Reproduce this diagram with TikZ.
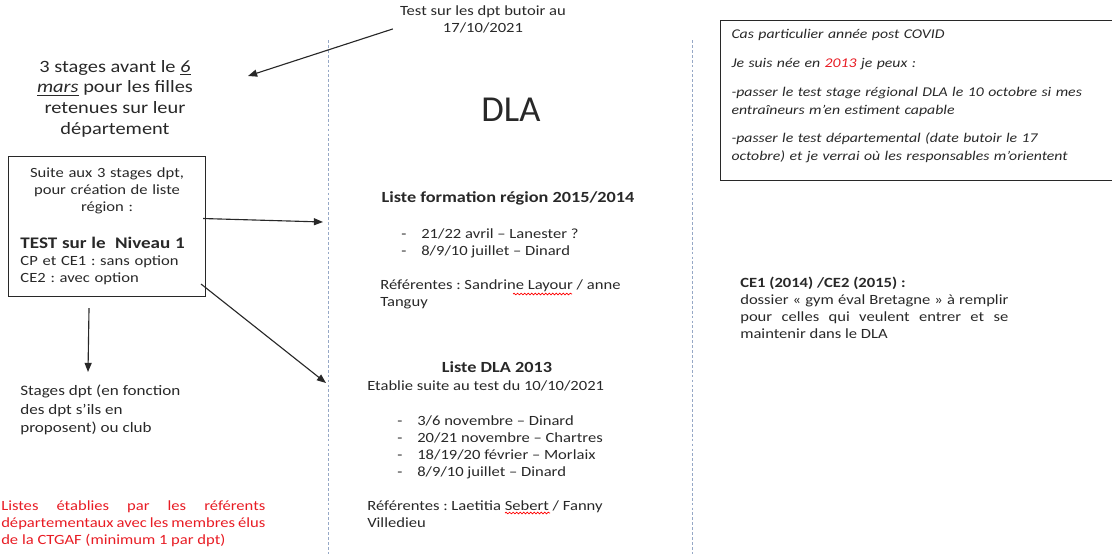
\documentclass[tikz,border=0pt]{standalone}
\usepackage{fontspec}
\setmainfont{Carlito}[FakeStretch=1.18]
\newfontfamily\titlefont{Carlito}
\usetikzlibrary{arrows.meta,decorations.pathmorphing}

\definecolor{inkgray}{RGB}{40,40,40}
\definecolor{notered}{RGB}{232,28,36}
\definecolor{seplineblue}{RGB}{150,168,198}

\newcommand\dashitem{\makebox[0.5cm][l]{-}}
\newcommand\bodyfont{\fontsize{10}{12.1}\selectfont}
\frenchspacing

\tikzset{
  txt/.style={inner sep=0pt, text=inkgray, font=\bodyfont, align=left},
  arr/.style={-{Triangle[length=6.5pt,width=5pt]}, line width=0.8pt, inkgray},
  sepline/.style={seplineblue, dash pattern=on 2pt off 1.5pt, line width=0.6pt},
  spellmark/.style={red, line width=0.5pt, decorate, decoration={snake, amplitude=0.6pt, segment length=2.5pt}},
}

\begin{document}
\begin{tikzpicture}[x=0.025cm, y=-0.025cm]
\useasboundingbox (0,0) rectangle (1112,554);

\foreach \x in {328,692}{
  \draw[sepline] (\x,40) -- (\x,554);
}

% left column
\node[txt, anchor=north, align=center] (test) at (483,5) {Test sur les dpt butoir au\\17/10/2021};
\node[txt, anchor=north, align=center, font=\fontsize{12.3}{14.7}\selectfont] (stages) at (115,60)
  {3 stages avant le \underline{\textit{6}}\\\underline{\textit{mars}} pour les filles\\retenues sur leur\\département};
\node[txt, draw=inkgray, line width=0.7pt, anchor=north west, inner xsep=0.3cm, inner ysep=0pt,
      text width=4.325cm, minimum height=3.5cm] (suite) at (8,156)
  {{\centering Suite aux 3 stages dpt,\\pour création de liste\\région :\par}
   \vspace{12pt}
   {\fontsize{11.5}{14}\selectfont\bfseries TEST sur le\ \ Niveau 1\par}
   CP et CE1 : sans option\\CE2 : avec option};
\node[txt, anchor=north west, font=\fontsize{10.3}{13}\selectfont] (club) at (20,385)
  {Stages dpt (en fonction\\des dpt s’ils en\\proposent) ou club};
\node[txt, text=notered, anchor=north west, align=justify, text width=6.6cm,
      font=\fontsize{10}{12.4}\selectfont] (listes) at (1,500)
  {Listes établies par les référents\linebreak départementaux avec les membres élus\linebreak de la CTGAF (minimum 1 par dpt)};

% DLA column
\node[txt, font=\fontsize{26}{30}\titlefont] (dla) at (511,110) {DLA};
\node[txt, font=\fontsize{11}{13}\selectfont\bfseries] (formation) at (508,198) {Liste formation région 2015/2014};
\node[txt, anchor=north west] (formlist) at (401,228)
  {\dashitem 21/22 avril – Lanester ?\\\dashitem 8/9/10 juillet – Dinard};
\node[txt, anchor=north west] (formref) at (380,279)
  {Référentes : Sandrine Layour / anne\\Tanguy};
\node[txt, font=\fontsize{11}{13}\selectfont\bfseries] (dlatitle) at (497,367) {Liste DLA 2013};
\node[txt, anchor=north west] (dlaset) at (367,380) {Etablie suite au test du 10/10/2021};
\node[txt, anchor=north west] (dlalist) at (397,415)
  {\dashitem 3/6 novembre – Dinard\\\dashitem 20/21 novembre – Chartres\\
   \dashitem 18/19/20 février – Morlaix\\\dashitem 8/9/10 juillet – Dinard};
\node[txt, anchor=north west] (dlaref) at (367,500)
  {Référentes : Laetitia Sebert / Fanny\\Villedieu};
\draw[spellmark] (513,294) -- (572,294);
\draw[spellmark] (505,513) -- (550,513);

% right column
\node[txt, draw=inkgray, line width=0.7pt, anchor=north west, font=\fontsize{9.5}{12.8}\selectfont\itshape,
      inner xsep=0.275cm, inner ysep=0pt, text width=9.35cm, minimum height=4cm] (covid) at (720,20)
  {\setlength\parskip{7.5pt}Cas particulier année post COVID\par
   Je suis née en \textcolor{notered}{2013} je peux :\par
   -passer le test stage régional DLA le 10 octobre si mes\\entraîneurs m’en estiment capable\par
   -passer le test départemental (date butoir le 17\\octobre) et je verrai où les responsables m’orientent\par
   \vspace{6pt}};
\node[txt, anchor=north west, align=justify, text width=6.7cm] (gymeval) at (740,277)
  {\textbf{CE1 (2014) /CE2 (2015) :}\\dossier « gym éval Bretagne » à remplir\linebreak pour celles qui veulent entrer et se\linebreak maintenir dans le DLA};

\coordinate (tipstages) at (248,76);
\coordinate (tipformation) at (323,222);
\coordinate (tipdla) at (326,383);
\draw[arr] ([shift={(-7,-4)}]test.south west) -- (tipstages);
\draw[arr] ([shift={(-3,-8)}]suite.east) -- (tipformation);
\draw[arr] ([shift={(-5,-13)}]suite.south east) -- (tipdla);
\draw[arr] ([shift={(-18,11)}]suite.south) -- ([shift={(68,-13)}]club.north west);
\end{tikzpicture}
\end{document}
